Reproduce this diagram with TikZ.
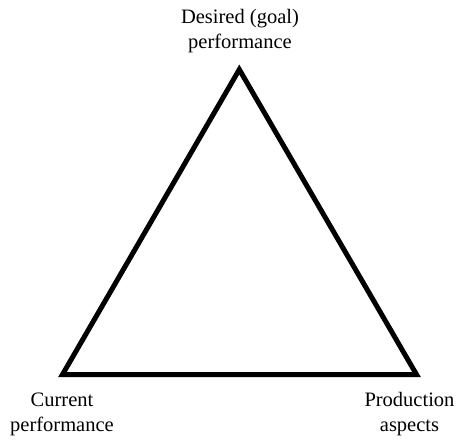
\documentclass[tikz,border=0pt]{standalone}
\usepackage{fontspec}
\setmainfont{Liberation Serif}
\begin{document}
\begin{tikzpicture}[x=1pt,y=-1pt,
  lbl/.style={align=center,inner sep=0pt,anchor=base,font=\fontsize{20.5}{24.5}\selectfont},
  tri/.style={draw=black,line width=5pt,line join=miter}]
\useasboundingbox (0,0) rectangle (460,439);
\coordinate (apex) at (239.3,69.5);
\coordinate (bl) at (62.5,374.5);
\coordinate (br) at (416.5,374.5);
\draw[tri] (apex) -- (bl) -- (br) -- cycle;
\node[lbl] (goal) at (240,48) {Desired (goal)\\performance};
\node[lbl] (cur) at (62,431) {Current\\performance};
\node[lbl] (prod) at (409.5,431) {Production\\aspects};
\end{tikzpicture}
\end{document}
